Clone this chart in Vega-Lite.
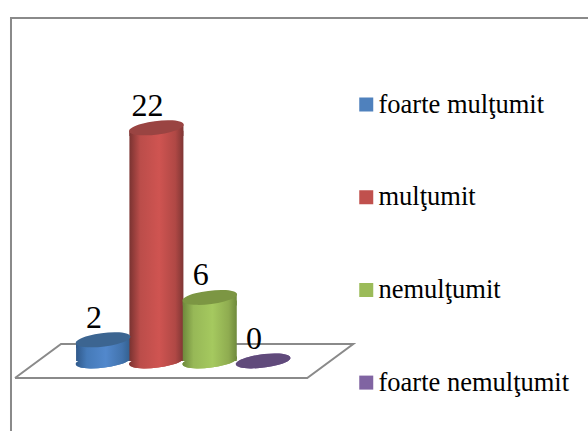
{
"$schema":"https://vega.github.io/schema/vega-lite/v6.json",
"width":588,"height":431,"autosize":{"type":"none"},"padding":0,"background":"white",
"config":{"view":{"stroke":null},"font":"Liberation Serif"},
"datasets":{
"bars":[
{"cat":"foarte mulţumit","idx":0,"value":2},
{"cat":"mulţumit","idx":1,"value":22},
{"cat":"nemulţumit","idx":2,"value":6},
{"cat":"foarte nemulţumit","idx":3,"value":0}],
"guides":[
{"part":"frame","ord":1,"ix":-1.726,"v":-6.6},
{"part":"frame","ord":2,"ix":-1.726,"v":32.36},
{"part":"frame","ord":3,"ix":9.09,"v":32.36},
{"part":"floor","ord":1,"ix":-1.651,"v":-1.604},
{"part":"floor","ord":2,"ix":3.827,"v":-1.604},
{"part":"floor","ord":3,"ix":4.69,"v":1.604},
{"part":"floor","ord":4,"ix":-0.788,"v":1.604},
{"part":"floor","ord":5,"ix":-1.651,"v":-1.604}]},
"data":{"name":"bars"},
"encoding":{
"x":{"field":"idx","type":"quantitative","axis":null,"scale":{"domain":[-1.932,9.09],"nice":false,"zero":false,"padding":0}},
"y":{"field":"value","type":"quantitative","axis":null,"stack":null,"scale":{"domain":[-6.604,34.057],"nice":false,"zero":false,"padding":0}}},
"layer":[
{"data":{"name":"guides"},"mark":{"type":"line","stroke":"#8a8a8a","strokeWidth":2},
"encoding":{"x":{"field":"ix","type":"quantitative"},"y":{"field":"v","type":"quantitative"},"detail":{"field":"part"},"order":{"field":"ord"}}},
{"mark":{"type":"point","filled":true,"opacity":1,"size":3025,"strokeWidth":0,"shape":"M-0.9925,0.122 A1,0.243,-7,1,1,0.9925,-0.122 A1,0.243,-7,1,1,-0.9925,0.122 Z"},
"encoding":{"y":{"datum":0},
"color":{"field":"cat","type":"nominal","scale":{"domain":["foarte mulţumit","mulţumit","nemulţumit","foarte nemulţumit"],"range":["#4f81bd","#c0504d","#9bbb59","#8064a2"]},
"legend":{"title":null,"orient":"none","legendX":353,"legendY":92,"padding":0,"symbolType":"square","symbolSize":196,"symbolStrokeWidth":0,"symbolOpacity":1,"labelFont":"Liberation Serif","labelFontSize":26.5,"labelColor":"#000000","labelLimit":300,"labelOffset":-1,"rowPadding":65.7,"clipHeight":25}}}},

{"transform":[{"filter":"datum.idx==0"}],"mark":{"type":"point","filled":true,"opacity":1,"size":3025,"strokeWidth":0,"shape":"M-0.9925,0.122 A1,0.243,-7,1,1,0.9925,-0.122 A1,0.243,-7,1,1,-0.9925,0.122 Z","fill":{"gradient":"linear","x1":0,"y1":0,"x2":1,"y2":0,"stops":[{"offset":0,"color":"#30598a"},{"offset":0.2,"color":"#457ab8"},{"offset":0.55,"color":"#5288cc"},{"offset":0.85,"color":"#4273ad"},{"offset":1,"color":"#33608f"}]}},"encoding":{"y":{"datum":0}}},
{"transform":[{"filter":"datum.idx==0"}],"mark":{"type":"bar","orient":"vertical","size":54,"yOffset":3,"fill":{"gradient":"linear","x1":0,"y1":0,"x2":1,"y2":0,"stops":[{"offset":0,"color":"#30598a"},{"offset":0.2,"color":"#457ab8"},{"offset":0.55,"color":"#5288cc"},{"offset":0.85,"color":"#4273ad"},{"offset":1,"color":"#33608f"}]}}},
{"transform":[{"filter":"datum.idx==0"}],"mark":{"type":"point","filled":true,"opacity":1,"size":2916,"strokeWidth":0,"shape":"M-1,0.122 L1,-0.122 L1,0.3 L-1,0.3 Z","fill":{"gradient":"linear","x1":0,"y1":0,"x2":1,"y2":0,"stops":[{"offset":0,"color":"#30598a"},{"offset":0.2,"color":"#457ab8"},{"offset":0.55,"color":"#5288cc"},{"offset":0.85,"color":"#4273ad"},{"offset":1,"color":"#33608f"}]}}},

{"transform":[{"filter":"datum.idx==1"}],"mark":{"type":"point","filled":true,"opacity":1,"size":3025,"strokeWidth":0,"shape":"M-0.9925,0.122 A1,0.243,-7,1,1,0.9925,-0.122 A1,0.243,-7,1,1,-0.9925,0.122 Z","fill":{"gradient":"linear","x1":0,"y1":0,"x2":1,"y2":0,"stops":[{"offset":0,"color":"#7a3331"},{"offset":0.2,"color":"#bb4d4a"},{"offset":0.55,"color":"#cf5451"},{"offset":0.85,"color":"#b04845"},{"offset":1,"color":"#7f3634"}]}},"encoding":{"y":{"datum":0}}},
{"transform":[{"filter":"datum.idx==1"}],"mark":{"type":"bar","orient":"vertical","size":54,"yOffset":3,"fill":{"gradient":"linear","x1":0,"y1":0,"x2":1,"y2":0,"stops":[{"offset":0,"color":"#7a3331"},{"offset":0.2,"color":"#bb4d4a"},{"offset":0.55,"color":"#cf5451"},{"offset":0.85,"color":"#b04845"},{"offset":1,"color":"#7f3634"}]}}},
{"transform":[{"filter":"datum.idx==1"}],"mark":{"type":"point","filled":true,"opacity":1,"size":2916,"strokeWidth":0,"shape":"M-1,0.122 L1,-0.122 L1,0.3 L-1,0.3 Z","fill":{"gradient":"linear","x1":0,"y1":0,"x2":1,"y2":0,"stops":[{"offset":0,"color":"#7a3331"},{"offset":0.2,"color":"#bb4d4a"},{"offset":0.55,"color":"#cf5451"},{"offset":0.85,"color":"#b04845"},{"offset":1,"color":"#7f3634"}]}}},

{"transform":[{"filter":"datum.idx==2"}],"mark":{"type":"point","filled":true,"opacity":1,"size":3025,"strokeWidth":0,"shape":"M-0.9925,0.122 A1,0.243,-7,1,1,0.9925,-0.122 A1,0.243,-7,1,1,-0.9925,0.122 Z","fill":{"gradient":"linear","x1":0,"y1":0,"x2":1,"y2":0,"stops":[{"offset":0,"color":"#6e893c"},{"offset":0.2,"color":"#97b857"},{"offset":0.55,"color":"#a5c95f"},{"offset":0.85,"color":"#8fac50"},{"offset":1,"color":"#6f8a3c"}]}},"encoding":{"y":{"datum":0}}},
{"transform":[{"filter":"datum.idx==2"}],"mark":{"type":"bar","orient":"vertical","size":54,"yOffset":3,"fill":{"gradient":"linear","x1":0,"y1":0,"x2":1,"y2":0,"stops":[{"offset":0,"color":"#6e893c"},{"offset":0.2,"color":"#97b857"},{"offset":0.55,"color":"#a5c95f"},{"offset":0.85,"color":"#8fac50"},{"offset":1,"color":"#6f8a3c"}]}}},
{"transform":[{"filter":"datum.idx==2"}],"mark":{"type":"point","filled":true,"opacity":1,"size":2916,"strokeWidth":0,"shape":"M-1,0.122 L1,-0.122 L1,0.3 L-1,0.3 Z","fill":{"gradient":"linear","x1":0,"y1":0,"x2":1,"y2":0,"stops":[{"offset":0,"color":"#6e893c"},{"offset":0.2,"color":"#97b857"},{"offset":0.55,"color":"#a5c95f"},{"offset":0.85,"color":"#8fac50"},{"offset":1,"color":"#6f8a3c"}]}}},

{"mark":{"type":"point","filled":true,"opacity":1,"size":3025,"strokeWidth":0,"shape":"M-0.9925,0.122 A1,0.243,-7,1,1,0.9925,-0.122 A1,0.243,-7,1,1,-0.9925,0.122 Z"},
"encoding":{"color":{"field":"cat","type":"nominal","legend":null,"scale":{"domain":["foarte mulţumit","mulţumit","nemulţumit","foarte nemulţumit"],"range":["#3c6591","#9a4442","#7c9643","#604a7b"]}}}},
{"mark":{"type":"text","font":"Liberation Serif","fontSize":32,"color":"#000000","dx":-9,"dy":-12,"baseline":"alphabetic","align":"center"},
"encoding":{"text":{"field":"value","type":"quantitative"}}}
],
"resolve":{"scale":{"color":"independent"}}
}
